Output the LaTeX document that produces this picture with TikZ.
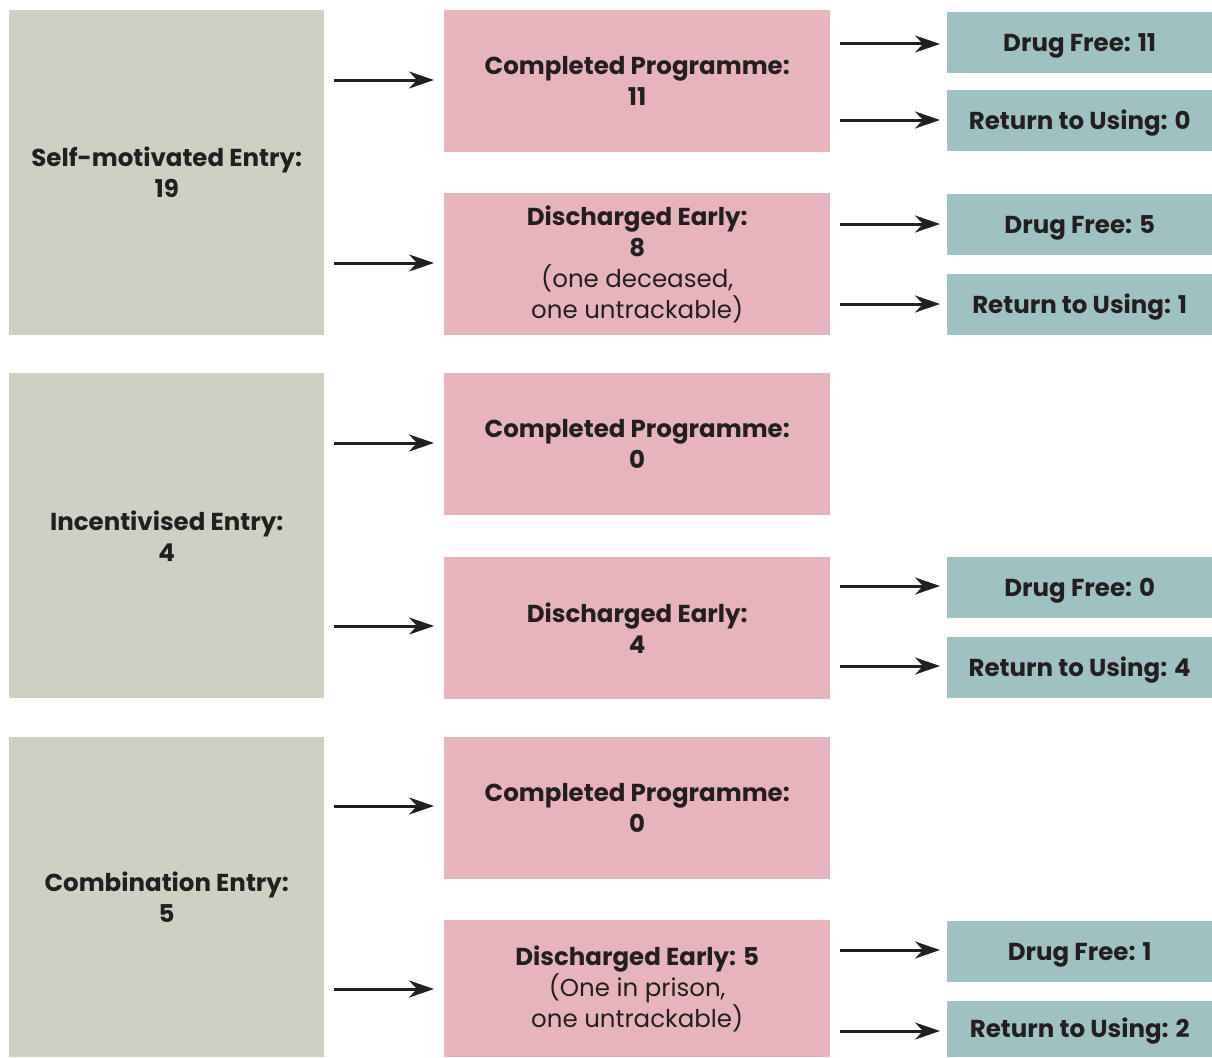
\documentclass[tikz,border=0pt]{standalone}
\usepackage{fontspec}
\setmainfont{Poppins}
\usetikzlibrary{arrows.meta}
\definecolor{entrycol}{HTML}{CDD0C3}
\definecolor{progcol}{HTML}{E8B4BC}
\definecolor{outcol}{HTML}{A0C1C2}
\definecolor{txt}{HTML}{231F20}
\tikzset{
  x=1pt,y=-1pt,
  box/.style={anchor=north west,inner sep=0pt,align=center,text=txt,
    font=\fontsize{24.5}{31}\selectfont\bfseries},
  entry/.style={box,fill=entrycol,minimum width=315pt,minimum height=325pt},
  prog/.style={box,fill=progcol,minimum width=386pt,minimum height=142pt},
  outc/.style={box,fill=outcol,minimum width=265pt,minimum height=61pt,text height=18pt,text depth=1pt},
  arr/.style={line width=3pt,draw=txt,-{Stealth[length=25pt,width=17pt,inset=8pt]}},
}
\newcommand{\lite}[1]{{\mdseries #1}}
\begin{document}
\begin{tikzpicture}
\useasboundingbox (0,0) rectangle (1212,1057);
% entries
\node[entry] (e1) at (9,10) {Self-motivated Entry:\\19};
\node[entry] (e2) at (9,373) {Incentivised Entry:\\4};
\node[entry,minimum height=320pt] (e3) at (9,737) {Combination Entry:\\5};
% programme boxes
\node[prog] (c1) at (444,10) {Completed Programme:\\11};
\node[prog] (d1) at (444,193) {Discharged Early:\\8\\\lite{(one deceased,}\\\lite{one untrackable)}};
\node[prog] (c2) at (444,373) {Completed Programme:\\0};
\node[prog] (d2) at (444,557) {Discharged Early:\\4};
\node[prog] (c3) at (444,737) {Completed Programme:\\0};
\node[prog,minimum height=137pt] (d3) at (444,920) {Discharged Early: 5\\\lite{(One in prison,}\\\lite{one untrackable)}};
% outcomes
\node[outc] (f1) at (947,12) {Drug Free: 11};
\node[outc] (r1) at (947,90) {Return to Using: 0};
\node[outc] (f2) at (947,194) {Drug Free: 5};
\node[outc] (r2) at (947,274) {Return to Using: 1};
\node[outc] (f3) at (947,557) {Drug Free: 0};
\node[outc] (r3) at (947,637) {Return to Using: 4};
\node[outc] (f4) at (947,921) {Drug Free: 1};
\node[outc,minimum height=56pt] (r4) at (947,1001) {Return to Using: 2};
% arrows entry -> programme
\draw[arr] ([xshift=10pt]e1.east |- 0,80) -- ([xshift=-10pt]c1.west |- 0,80);
\draw[arr] ([xshift=10pt]e1.east |- 0,263) -- ([xshift=-10pt]d1.west |- 0,263);
\draw[arr] ([xshift=10pt]e2.east |- 0,443) -- ([xshift=-10pt]c2.west |- 0,443);
\draw[arr] ([xshift=10pt]e2.east |- 0,626) -- ([xshift=-10pt]d2.west |- 0,626);
\draw[arr] ([xshift=10pt]e3.east |- 0,806) -- ([xshift=-10pt]c3.west |- 0,806);
\draw[arr] ([xshift=10pt]e3.east |- 0,989) -- ([xshift=-10pt]d3.west |- 0,989);
% arrows programme -> outcome
\draw[arr] ([xshift=10pt]c1.east |- 0,44) -- ([xshift=-7pt]f1.west |- 0,44);
\draw[arr] ([xshift=10pt]c1.east |- 0,120) -- ([xshift=-7pt]r1.west |- 0,120);
\draw[arr] ([xshift=10pt]d1.east |- 0,224) -- ([xshift=-7pt]f2.west |- 0,224);
\draw[arr] ([xshift=10pt]d1.east |- 0,304) -- ([xshift=-7pt]r2.west |- 0,304);
\draw[arr] ([xshift=10pt]d2.east |- 0,586) -- ([xshift=-7pt]f3.west |- 0,586);
\draw[arr] ([xshift=10pt]d2.east |- 0,666) -- ([xshift=-7pt]r3.west |- 0,666);
\draw[arr] ([xshift=10pt]d3.east |- 0,950) -- ([xshift=-7pt]f4.west |- 0,950);
\draw[arr] ([xshift=10pt]d3.east |- 0,1031) -- ([xshift=-7pt]r4.west |- 0,1031);
\end{tikzpicture}
\end{document}
